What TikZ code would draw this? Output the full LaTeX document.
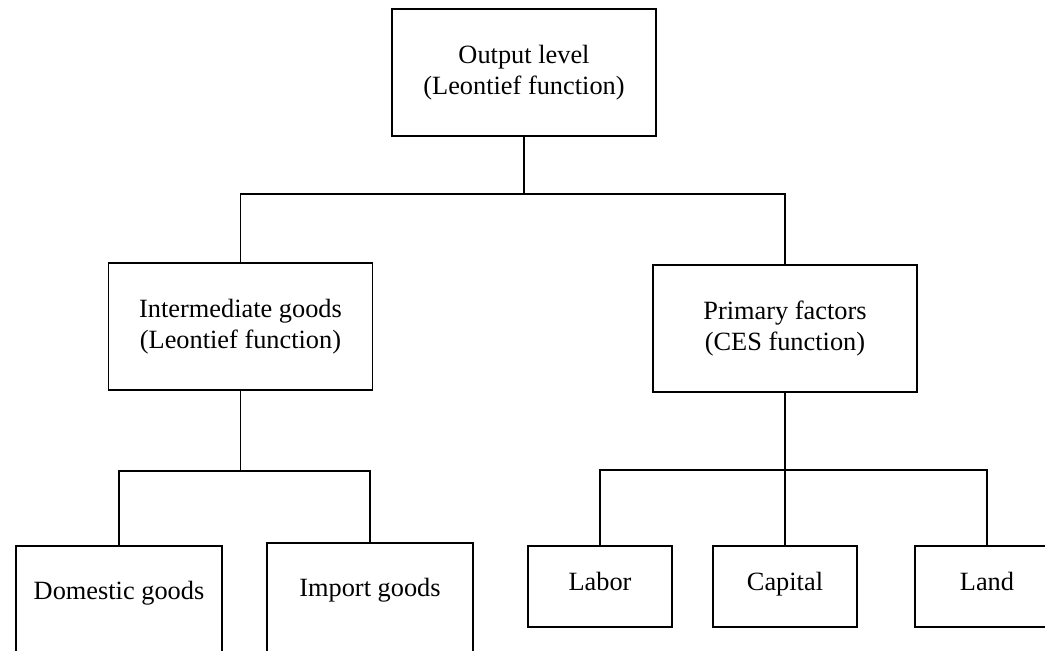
\documentclass[tikz,border=0pt]{standalone}
\usepackage{fontspec}
\setmainfont{Liberation Serif}
\usetikzlibrary{positioning,calc}

\begin{document}
\begin{tikzpicture}[x=0.02cm, y=-0.02cm,
  box/.style={rectangle, draw, line width=0.8pt, inner sep=0pt, align=center, font=\fontsize{15}{18}\selectfont},
  bigbox/.style={box, minimum width=5.28cm, minimum height=2.54cm},
  goodsbox/.style={box, minimum width=4.12cm, minimum height=2.2cm, text height=11pt, text depth=13pt},
  factorbox/.style={box, minimum width=2.88cm, minimum height=1.62cm, text height=11pt, text depth=6pt},
  link/.style={line width=1.1pt}]
\useasboundingbox (0,0) rectangle (1045,651);
\clip (0,0) rectangle (1045,651);
\node[bigbox] (output) at (524,72.5) {Output level\\(Leontief function)};
\node[bigbox] (inter) at (240.5,326.5) {Intermediate goods\\(Leontief function)};
\node[bigbox] (primary) at (785,328.5) {Primary factors\\(CES function)};
\node[goodsbox] (domestic) at (119,601) {Domestic goods};
\node[goodsbox] (import) at (370,598) {Import goods};
\node[factorbox] (labor) at (600,586.5) {Labor};
\node[factorbox] (capital) at (785,586.5) {Capital};
\node[factorbox] (land) at (987,586.5) {Land};
\coordinate (topbus) at (524,194);
\coordinate (leftbus) at (240.5,471);
\coordinate (rightbus) at (785,470);
\draw[link] (output.south) -- (topbus);
\draw[link] (inter.north) |- (topbus) -| (primary.north);
\draw[link] (inter.south) -- (leftbus);
\draw[link] (domestic.north) |- (leftbus) -| (import.north);
\draw[link] (primary.south) -- (capital.north);
\draw[link] (labor.north) |- (rightbus) -| (land.north);
\end{tikzpicture}
\end{document}
